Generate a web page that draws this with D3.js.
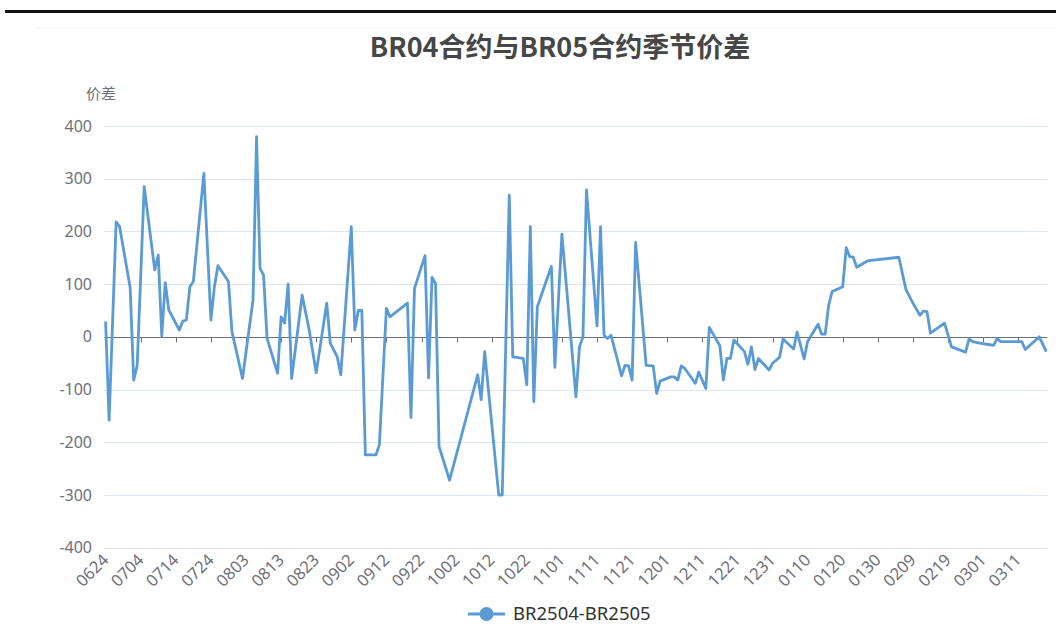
<!DOCTYPE html>
<html>
<head>
<meta charset="utf-8">
<script src="https://cdn.jsdelivr.net/npm/d3@7/dist/d3.min.js"></script>
<style>
  body { margin: 0; background: #fff; }
  svg { display: block; font-family: "Noto Sans", "Noto Sans CJK SC", sans-serif; }
</style>
</head>
<body>
<svg id="chart" width="1056" height="643"></svg>
<script>
// BR2504 - BR2505 spread, by trading day (MMDD)
const dates = [
    '0624','0625','0627','0628','0701','0702','0703','0705','0708','0709',
    '0710','0711','0712','0715','0716','0717','0718','0719','0722','0724',
    '0725','0726','0729','0730','0802','0805','0806','0807','0808','0809',
    '0812','0813','0814','0815','0816','0819','0821','0823','0826','0827',
    '0829','0830','0902','0903','0904','0905','0906','0909','0910','0912',
    '0913','0918','0919','0920','0923','0924','0925','0926','0927','0930',
    '1008','1009','1010','1014','1015','1017','1018','1021','1022','1023',
    '1024','1025','1029','1030','1101','1105','1106','1107','1108','1111',
    '1112','1113','1114','1115','1118','1119','1120','1121','1122','1125',
    '1127','1128','1129','1202','1203','1204','1205','1206','1209','1210',
    '1212','1213','1216','1217','1218','1219','1220','1223','1224','1225',
    '1226','1227','1230','1231','0102','0103','0106','0107','0109','0110',
    '0113','0114','0115','0116','0117','0120','0121','0122','0123','0124',
    '0127','0205','0207','0209','0211','0212','0213','0214','0218','0220',
    '0224','0225','0226','0228','0303','0304','0305','0306','0307','0310',
    '0311','0312','0313','0317','0319'
];
const values = [
    29, -158, 218, 209, 93, -82, -54, 285, 127, 155,
    2, 103, 51, 13, 30, 32, 95, 105, 310, 32,
    95, 135, 105, 10, -79, 70, 380, 130, 117, -3,
    -69, 38, 26, 100, -79, 79, 13, -68, 64, -12,
    -38, -72, 209, 13, 50, 50, -224, -224, -205, 54,
    38, 64, -153, 92, 154, -78, 113, 101, -208, -272,
    -72, -119, -28, -300, -300, 269, -38, -41, -91, 209,
    -123, 57, 134, -58, 195, -114, -19, 0, 279, 21,
    209, 3, -3, 3, -74, -54, -55, -82, 179, -54,
    -55, -107, -84, -76, -76, -82, -55, -60, -88, -67,
    -98, 18, -17, -82, -41, -41, -6, -28, -52, -19,
    -62, -41, -63, -50, -39, -4, -23, 9, -42, -9,
    24, 5, 5, 60, 86, 95, 169, 152, 151, 132,
    144, 151, 90, 64, 41, 49, 48, 7, 26, -19,
    -29, -4, -9, -12, -15, -16, -3, -9, -9, -9,
    -9, -9, -24, 0, -28
];
const tickLabels = [
    '0624','0704','0714','0724','0803','0813','0823','0902','0912','0922',
    '1002','1012','1022','1101','1111','1121','1201','1211','1221','1231',
    '0110','0120','0130','0209','0219','0301','0311'
];
const yTicks = [-400, -300, -200, -100, 0, 100, 200, 300, 400];
const seriesName = 'BR2504-BR2505';
const titleText = 'BR04合约与BR05合约季节价差';
const yName = '价差';

const lineColor = '#5b9bd5';
const gridColor = '#e0e6f1';
const axisColor = '#6e7079';

const svg = d3.select('#chart');
const plotLeft = 105.6, plotRight = 1046.3, plotTop = 126, plotBottom = 547.7;

// every calendar day on the category axis
const fmt = d3.timeFormat('%m%d');
const days = d3.timeDay.range(new Date(2024, 5, 24), new Date(2025, 2, 20)).map(fmt);

const x = d3.scalePoint().domain(days).range([plotLeft, plotRight]);
const y = d3.scaleLinear().domain([-400, 400]).range([plotBottom, plotTop]);

// frame lines on top
svg.append('rect').attr('x', 5).attr('y', 10).attr('width', 1051).attr('height', 3).attr('fill', '#111');
svg.append('line').attr('x1', 35).attr('x2', 1056).attr('y1', 28).attr('y2', 28)
    .attr('stroke', '#f2f2f2').attr('stroke-width', 1);

svg.append('text')
    .attr('x', 560).attr('y', 57)
    .attr('text-anchor', 'middle')
    .style('font-family', '"Noto Sans CJK SC", sans-serif')
    .style('font-size', '27px')
    .style('font-weight', 'bold')
    .attr('fill', '#464646')
    .text(titleText);

svg.append('text')
    .attr('x', 86).attr('y', 99)
    .style('font-family', '"Noto Sans CJK SC", sans-serif')
    .style('font-size', '15px')
    .attr('fill', '#6e7079')
    .text(yName);

// horizontal grid + y labels
svg.append('g').selectAll('line').data(yTicks.filter(d => d !== 0)).join('line')
    .attr('x1', plotLeft - 1.5).attr('x2', plotRight + 1)
    .attr('y1', d => Math.round(y(d)) + 0.5).attr('y2', d => Math.round(y(d)) + 0.5)
    .attr('stroke', gridColor);

svg.append('g').selectAll('text').data(yTicks).join('text')
    .attr('x', 92).attr('y', d => y(d))
    .attr('dy', '0.35em')
    .attr('text-anchor', 'end')
    .style('font-size', '16px')
    .attr('fill', axisColor)
    .text(d => d);

// x axis line sits on zero
const y0 = Math.round(y(0)) + 0.5;
svg.append('line')
    .attr('x1', plotLeft - 1.5).attr('x2', plotRight + 1)
    .attr('y1', y0).attr('y2', y0)
    .attr('stroke', axisColor).attr('stroke-width', 1);

svg.append('g').selectAll('line').data(tickLabels).join('line')
    .attr('x1', d => Math.round(x(d)) + 0.5).attr('x2', d => Math.round(x(d)) + 0.5)
    .attr('y1', y0).attr('y2', y0 + 5)
    .attr('stroke', axisColor);

svg.append('g').selectAll('text').data(tickLabels).join('text')
    .attr('transform', d => `translate(${x(d) + 4},${561}) rotate(-45)`)
    .attr('text-anchor', 'end')
    .style('font-size', '16.5px')
    .attr('fill', axisColor)
    .text(d => d);

// the series
const points = dates.map((d, i) => ({ date: d, value: values[i] }));
const line = d3.line().x(d => x(d.date)).y(d => y(d.value));

svg.append('path')
    .datum(points)
    .attr('d', line)
    .attr('fill', 'none')
    .attr('stroke', lineColor)
    .attr('stroke-width', 2.8)
    .attr('stroke-linejoin', 'round');

// legend
const legend = svg.append('g').attr('transform', 'translate(468,614)');
legend.append('line').attr('x1', 0).attr('x2', 37).attr('y1', 0).attr('y2', 0)
    .attr('stroke', lineColor).attr('stroke-width', 3);
legend.append('circle').attr('cx', 18.5).attr('cy', 0).attr('r', 7).attr('fill', lineColor);
legend.append('text')
    .attr('x', 45).attr('y', 0).attr('dy', '0.35em')
    .style('font-size', '18.5px')
    .attr('fill', '#333')
    .text(seriesName);
</script>
</body>
</html>
